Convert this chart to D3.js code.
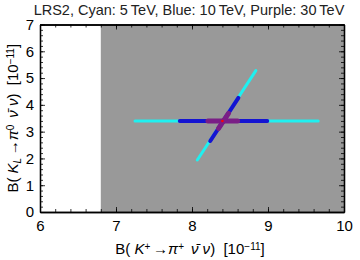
<!DOCTYPE html>
<html>
<head>
<meta charset="utf-8">
<script src="https://cdn.jsdelivr.net/npm/d3@7"></script>
<style>
  body { margin: 0; background: #fff; }
  text { font-family: "Liberation Sans", Arial, sans-serif; }
</style>
</head>
<body>
<div id="chart"></div>
<script>
// data
const titleText = "LRS2, Cyan: 5\u2009TeV, Blue: 10\u2009TeV, Purple: 30\u2009TeV";
const xDomain = [6, 10];
const yDomain = [0, 7];
const xTicks = [6, 7, 8, 9, 10];
const yTicks = [0, 1, 2, 3, 4, 5, 6, 7];
const shadedRegion = {x0: 6.8, x1: 10, y0: 0, y1: 7};

const cyanHorizontal = [[7.25, 3.40], [9.66, 3.40]];
const cyanDiagonal = [[8.07, 1.94], [8.84, 5.28]];
const blueHorizontal = [[7.84, 3.40], [8.99, 3.40]];
const blueDiagonal = [[8.24, 2.65], [8.61, 4.26]];
const purpleHorizontal = [[8.21, 3.40], [8.60, 3.40]];
const purpleDiagonal = [[8.35, 3.12], [8.48, 3.68]];
const smPoint = [8.40, 3.40];

const W = 360, H = 260;
const margin = {top: 24.5, right: 16, bottom: 48, left: 40};
const width = W - margin.left - margin.right;
const height = H - margin.top - margin.bottom;

const svg = d3.select("#chart").append("svg")
    .attr("width", W)
    .attr("height", H);

const g = svg.append("g")
    .attr("transform", `translate(${margin.left}, ${margin.top})`);

const x = d3.scaleLinear().domain(xDomain).range([0, width]);
const y = d3.scaleLinear().domain(yDomain).range([height, 0]);

// gray allowed region
g.append("rect")
    .attr("x", x(shadedRegion.x0))
    .attr("y", y(shadedRegion.y1))
    .attr("width", x(shadedRegion.x1) - x(shadedRegion.x0))
    .attr("height", y(shadedRegion.y0) - y(shadedRegion.y1))
    .attr("fill", "#999999");

const line = d3.line().x(d => x(d[0])).y(d => y(d[1]));

const segs = [
    {d: cyanHorizontal, c: "#1ff0f0", w: 3},
    {d: cyanDiagonal, c: "#1ff0f0", w: 3},
    {d: blueHorizontal, c: "#1414d2", w: 4},
    {d: blueDiagonal, c: "#1414d2", w: 4},
    {d: purpleHorizontal, c: "#7a1e86", w: 5},
    {d: purpleDiagonal, c: "#7a1e86", w: 5}
];
segs.forEach(s => {
    g.append("path")
        .datum(s.d)
        .attr("fill", "none")
        .attr("stroke", s.c)
        .attr("stroke-width", s.w)
        .attr("stroke-linecap", "round")
        .attr("d", line);
});

g.append("circle")
    .attr("cx", x(smPoint[0]))
    .attr("cy", y(smPoint[1]))
    .attr("r", 1.3)
    .attr("fill", "#ff0000");

// frame with inward ticks on all sides
const xMinor = d3.range(6, 10.001, 0.2);
const yMinor = d3.range(0, 7.001, 0.2);

function tickAxis(axisFn, scale, ticks, minor, transform, labels) {
    const major = g.append("g").attr("transform", transform)
        .call(axisFn(scale).tickValues(ticks).tickSizeInner(-5).tickSizeOuter(0)
            .tickFormat(labels ? d3.format("d") : ""));
    const mn = g.append("g").attr("transform", transform)
        .call(axisFn(scale).tickValues(minor).tickSizeInner(-3).tickSizeOuter(0).tickFormat(""));
    [major, mn].forEach(a => {
        a.select(".domain").attr("stroke", "#000").attr("stroke-width", 1.3);
        a.selectAll("line").attr("stroke", "#000").attr("stroke-width", 0.8);
    });
    return major;
}

const xb = tickAxis(d3.axisBottom, x, xTicks, xMinor, `translate(0,${height})`, true);
xb.selectAll("text").attr("font-size", 15).attr("fill", "#000").attr("dy", "1.05em");
tickAxis(d3.axisTop, x, xTicks, xMinor, "translate(0,0)", false);
const yl = tickAxis(d3.axisLeft, y, yTicks, yMinor, "translate(0,0)", true);
yl.selectAll("text").attr("font-size", 15).attr("fill", "#000").attr("dx", "-0.2em");
tickAxis(d3.axisRight, y, yTicks, yMinor, `translate(${width},0)`, false);

// title
svg.append("text")
    .attr("x", 189)
    .attr("y", 15)
    .attr("text-anchor", "middle")
    .attr("font-size", 14.5)
    .attr("fill", "#222")
    .text(titleText);

// axis labels with math bits
function mathLabel(sel, parts) {
    parts.forEach(p => {
        const t = sel.append("tspan").text(p.t);
        if (p.i) t.attr("font-style", "italic");
        if (p.sup) t.attr("baseline-shift", "40%").attr("font-size", 10);
        if (p.sub) t.attr("baseline-shift", "-25%").attr("font-size", 10);
    });
}

const labelParts = (sup1, sub1, sup2) => [
    {t: "B( "}, {t: "K", i: true}, sub1 ? {t: sub1 + " ", sub: true, i: true} : {t: sup1 + " ", sup: true},
    {t: "\u2192"}, {t: "\u03C0", i: true}, {t: sup2 + " ", sup: true},
    {t: " \u03BD\u0304 \u03BD", i: true},
    {t: ")  [10"}, {t: "\u221211", sup: true}, {t: "]"}
];

const xLab = svg.append("text")
    .attr("x", 190)
    .attr("y", 254)
    .attr("text-anchor", "middle")
    .attr("font-size", 15)
    .attr("fill", "#000")
    .style("white-space", "pre");
mathLabel(xLab, labelParts("+", null, "+"));

const yLab = svg.append("text")
    .attr("transform", `translate(18, ${margin.top + height / 2}) rotate(-90)`)
    .attr("text-anchor", "middle")
    .attr("font-size", 15)
    .attr("fill", "#000")
    .style("white-space", "pre");
mathLabel(yLab, labelParts(null, "L", "0"));
</script>
</body>
</html>
